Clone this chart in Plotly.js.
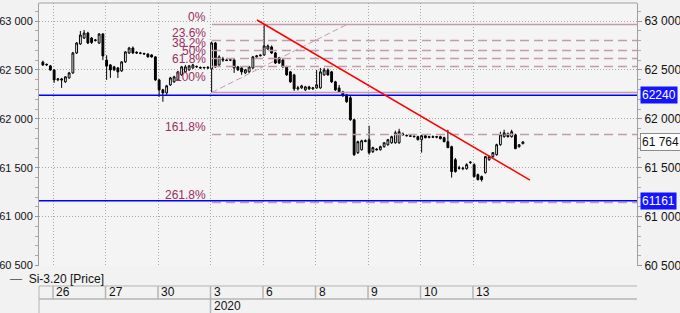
<!DOCTYPE html>
<html><head><meta charset="utf-8">
<script src="https://cdn.plot.ly/plotly-3.0.1.min.js"></script>
<style>html,body{margin:0;padding:0;background:#f2f2f2;}#chart{width:680px;height:313px;}</style>
</head><body><div id="chart"></div>
<script>
// ---- data (bar index 0 = first hourly bar of 26 Dec) ----
const firstBar = -3;
const open = [
 62580,62551,62541,
 62500,62398,62408,62378,62418,62469,62673,62765,62826,62877,62826,62800,62775,62867,
 62600,62551,62531,62520,62490,62582,62673,62724,62680,62673,62668,62663,62653,62633,
 62398,62296,62265,62347,62378,62398,62449,62480,62500,62520,62531,62525,62520,62525,
 62510,62775,62551,62612,62602,62600,62602,62531,62520,62469,62480,62520,62633,62643,
 62653,62714,62735,62673,62622,62602,62531,62480,62449,62306,62316,62296,62326,62306,
 62316,62316,62449,62500,62480,62378,62316,62275,62245,62215,61990,61654,61684,61776,
 61786,61664,61690,61684,61715,61735,61755,61755,61755,61845,61830,61827,61822,61817,
 61786,61827,61810,61817,61812,61817,61807,61766,61715,61582,61500,61490,61490,61551,
 61531,61429,61409,61449,61582,61613,61633,61735,61817,61847,61817,61837,61715,61745
];
const high = [
 62595,62565,62551,
 62505,62415,62418,62435,62480,62684,62785,62898,62908,62890,62836,62816,62877,62877,
 62650,62560,62541,62530,62590,62690,62735,62740,62690,62684,62676,62670,62660,62640,
 62408,62306,62347,62429,62440,62490,62541,62551,62551,62562,62545,62535,62530,62540,
 62790,62785,62650,62633,62612,62608,62612,62541,62531,62510,62541,62643,62653,62660,
 62965,62760,62750,62684,62633,62612,62541,62490,62460,62337,62347,62337,62337,62326,
 62500,62520,62520,62515,62490,62388,62347,62285,62255,62245,62000,61776,61786,61790,
 61929,61715,61700,61725,61760,61795,61827,61878,61898,61860,61840,61837,61830,61827,
 61837,61840,61825,61830,61825,61827,61817,61888,61725,61600,61520,61510,61545,61565,
 61545,61440,61420,61620,61625,61660,61745,61868,61888,61860,61888,61848,61740,61770
];
const low = [
 62540,62540,62490,
 62367,62385,62316,62368,62410,62460,62663,62755,62816,62765,62765,62790,62765,62600,
 62398,62418,62490,62418,62480,62571,62663,62663,62663,62660,62655,62625,62625,62388,
 62225,62174,62245,62337,62368,62388,62440,62470,62490,62510,62520,62512,62512,62510,
 62270,62520,62541,62582,62590,62590,62469,62490,62450,62459,62470,62510,62625,62640,
 62643,62704,62663,62560,62560,62520,62440,62367,62285,62290,62306,62285,62296,62296,
 62306,62306,62440,62440,62367,62285,62265,62225,62164,61980,61620,61640,61675,61760,
 61633,61650,61675,61675,61705,61725,61745,61745,61745,61830,61820,61815,61810,61780,
 61654,61800,61800,61805,61800,61790,61760,61700,61399,61450,61480,61475,61480,61540,
 61400,61370,61358,61440,61570,61600,61623,61725,61807,61810,61807,61690,61705,61740
];
const close = [
 62551,62556,62500,
 62398,62408,62398,62429,62469,62673,62775,62857,62877,62775,62780,62806,62867,62643,
 62540,62500,62500,62480,62582,62684,62724,62673,62673,62670,62663,62633,62633,62398,
 62296,62265,62337,62418,62429,62480,62531,62531,62541,62551,62535,62520,62525,62520,
 62775,62531,62633,62602,62596,62602,62520,62500,62480,62500,62531,62633,62643,62650,
 62745,62745,62673,62571,62571,62531,62449,62378,62306,62316,62337,62326,62306,62316,
 62347,62480,62500,62449,62378,62296,62275,62235,62174,61990,61633,61766,61776,61770,
 61654,61705,61684,61715,61755,61786,61817,61857,61868,61837,61827,61822,61817,61786,
 61827,61807,61817,61812,61817,61797,61766,61705,61460,61460,61495,61495,61531,61556,
 61409,61378,61378,61613,61613,61654,61735,61837,61857,61817,61868,61695,61735,61764
];
const dayLabels = ['26','27','30','3','6','8','9','10','13'];
const dayStartBar = [0,14,28,42,56,70,84,98,112];
const yearLabel = '2020', yearStartBar = 42;
const fibLevels = [0, 23.6, 38.2, 50, 61.8, 100, 161.8, 261.8];
const fibHigh = 62965, fibLow = 62270;
const fibStartBar = 42.1, fibEndBar = 78.1;
const trendStart = [54.1, 63010], trendEnd = [126.9, 61374];
const blueLevels = [62240, 61161];
const lastPrice = 61764;
const seriesName = 'Si-3.20 [Price]';

// ---- build ----
const xs = open.map((_, k) => k + firstBar);
const XMIN = -4.033, XMAX = 155.43;
const YMIN = 60495, YMAX = 63184;
const bounds = dayStartBar.map(b => b - 0.3);
const fibColor = '#c49aac', fibText = '#97305e';
const boxCol = '#b4b4b4';
const FONT = 'Liberation Sans, Arial, sans-serif';

const traces = [{
  type: 'candlestick', x: xs, open, high, low, close,
  increasing: {line: {color: '#000', width: 1}, fillcolor: '#ffffff'},
  decreasing: {line: {color: '#000', width: 1}, fillcolor: '#000000'},
  whiskerwidth: 0, hoverinfo: 'skip', showlegend: false, xaxis: 'x', yaxis: 'y'
}, {
  type: 'scatter', mode: 'lines', x: xs, y: close, yaxis: 'y2',
  line: {width: 0, color: 'rgba(0,0,0,0)'}, hoverinfo: 'skip', showlegend: false
}];

const shapes = [], annotations = [];
shapes.push({type:'line', xref:'paper', yref:'paper', x0:0, x1:1, y0:1, y1:1, line:{color:'#a0a0a0', width:1}});
fibLevels.forEach(l => {
  const p = fibHigh - (fibHigh - fibLow) * l / 100;
  const solid = (l === 0 || l === 100);
  shapes.push({type:'line', xref:'x', yref:'y', x0:fibStartBar, x1:XMAX, y0:p, y1:p,
    line:{color:fibColor, width:1.5, dash: solid ? 'solid' : '9px,5px'}});
  annotations.push({xref:'x', yref:'y', x:fibStartBar - 1, y:p, xanchor:'right', yanchor:'middle',
    yshift: (l === 100 ? 15 : 7), text: l + '%', showarrow:false,
    font:{family:FONT, size:12, color:fibText}});
});
shapes.push({type:'line', xref:'x', yref:'y', x0:fibStartBar, y0:fibLow, x1:fibEndBar, y1:fibHigh,
  line:{color:fibColor, width:1, dash:'6px,3px'}});
blueLevels.forEach(v => {
  shapes.push({type:'line', xref:'paper', yref:'y', x0:0, x1:1, y0:v, y1:v, line:{color:'#0000ff', width:1.5}});
  annotations.push({xref:'paper', yref:'y', x:1, xshift:3, y:v, xanchor:'left', yanchor:'middle',
    text: String(v), showarrow:false, bgcolor:'#1414ff', borderpad:1,
    font:{family:FONT, size:12, color:'#ffffff'}});
});
shapes.push({type:'line', xref:'x', yref:'y', x0:trendStart[0], y0:trendStart[1], x1:trendEnd[0], y1:trendEnd[1],
  line:{color:'#ff0000', width:1.5}});
annotations.push({xref:'paper', yref:'y', x:1, xshift:3, y:lastPrice, xanchor:'left', yanchor:'middle',
  text: '61 764', showarrow:false, bgcolor:'#ffffff', bordercolor:'#8a8a8a', borderwidth:1, borderpad:1,
  font:{family:FONT, size:12, color:'#111'}});

const yTop = -0.076, yMid = -0.1255, yBot = -0.1787;
shapes.push({type:'line', xref:'paper', yref:'paper', x0:0, x1:1, y0:yTop, y1:yTop, line:{color:boxCol, width:1}});
shapes.push({type:'line', xref:'paper', yref:'paper', x0:0, x1:1, y0:yMid, y1:yMid, line:{color:boxCol, width:1.5}});
shapes.push({type:'line', xref:'paper', yref:'paper', x0:0, x1:0, y0:yTop, y1:yBot, line:{color:boxCol, width:1}});
bounds.forEach((b, k) => {
  shapes.push({type:'line', xref:'x', yref:'paper', x0:b, x1:b, y0:yTop, y1:yMid, line:{color:boxCol, width:1.5}});
  annotations.push({xref:'x', yref:'paper', x:b, xshift:1, y:(yTop + yMid) / 2, xanchor:'left', yanchor:'middle',
    text: dayLabels[k], showarrow:false, font:{family:FONT, size:12, color:'#111'}});
});
const yb = yearStartBar - 0.3;
shapes.push({type:'line', xref:'x', yref:'paper', x0:yb, x1:yb, y0:yMid, y1:yBot, line:{color:boxCol, width:1.5}});
annotations.push({xref:'x', yref:'paper', x:yb, xshift:1, y:(yMid + yBot) / 2, xanchor:'left', yanchor:'middle',
  text: yearLabel, showarrow:false, font:{family:FONT, size:12, color:'#111'}});
annotations.push({xref:'paper', yref:'paper', x:-0.052, y:-0.049, xanchor:'left', yanchor:'middle',
  text:'<span style="color:#666">—</span>  ' + seriesName, showarrow:false,
  font:{family:FONT, size:12, color:'#111'}});

const yAxisBase = {
  range:[YMIN, YMAX], tickmode:'array', tickvals:[60500,61000,61500,62000,62500,63000],
  tickformat:',d', ticks:'outside', ticklen:4, tickcolor:'#999',
  showline:true, linecolor:'#a0a0a0', linewidth:1, zeroline:false,
  minor:{dtick:100, tick0:0, ticks:'outside', ticklen:3, tickcolor:'#aaa', showgrid:false},
  tickfont:{family:FONT, size:12, color:'#111'}, fixedrange:true
};

const layout = {
  width:680, height:313, margin:{l:39, r:43, t:3, b:47},
  paper_bgcolor:'#f2f2f2', plot_bgcolor:'#f4f4f4',
  separators:', ', showlegend:false, dragmode:false,
  xaxis:{range:[XMIN, XMAX], tickmode:'array', tickvals:bounds, showticklabels:false, ticks:'',
    showgrid:true, gridcolor:'#a8a8a8', griddash:'1px,2px', gridwidth:1, zeroline:false, showline:false,
    rangeslider:{visible:false}, fixedrange:true},
  yaxis:Object.assign({}, yAxisBase, {side:'left', showgrid:true, gridcolor:'#a8a8a8', griddash:'1px,2px', gridwidth:1,
    ticklen:3, tickfont:{family:FONT, size:11, color:'#111'}}),
  yaxis2:Object.assign({}, yAxisBase, {side:'right', overlaying:'y', showgrid:false}),
  shapes, annotations
};
Plotly.newPlot('chart', traces, layout, {staticPlot:true, displayModeBar:false});
</script></body></html>
